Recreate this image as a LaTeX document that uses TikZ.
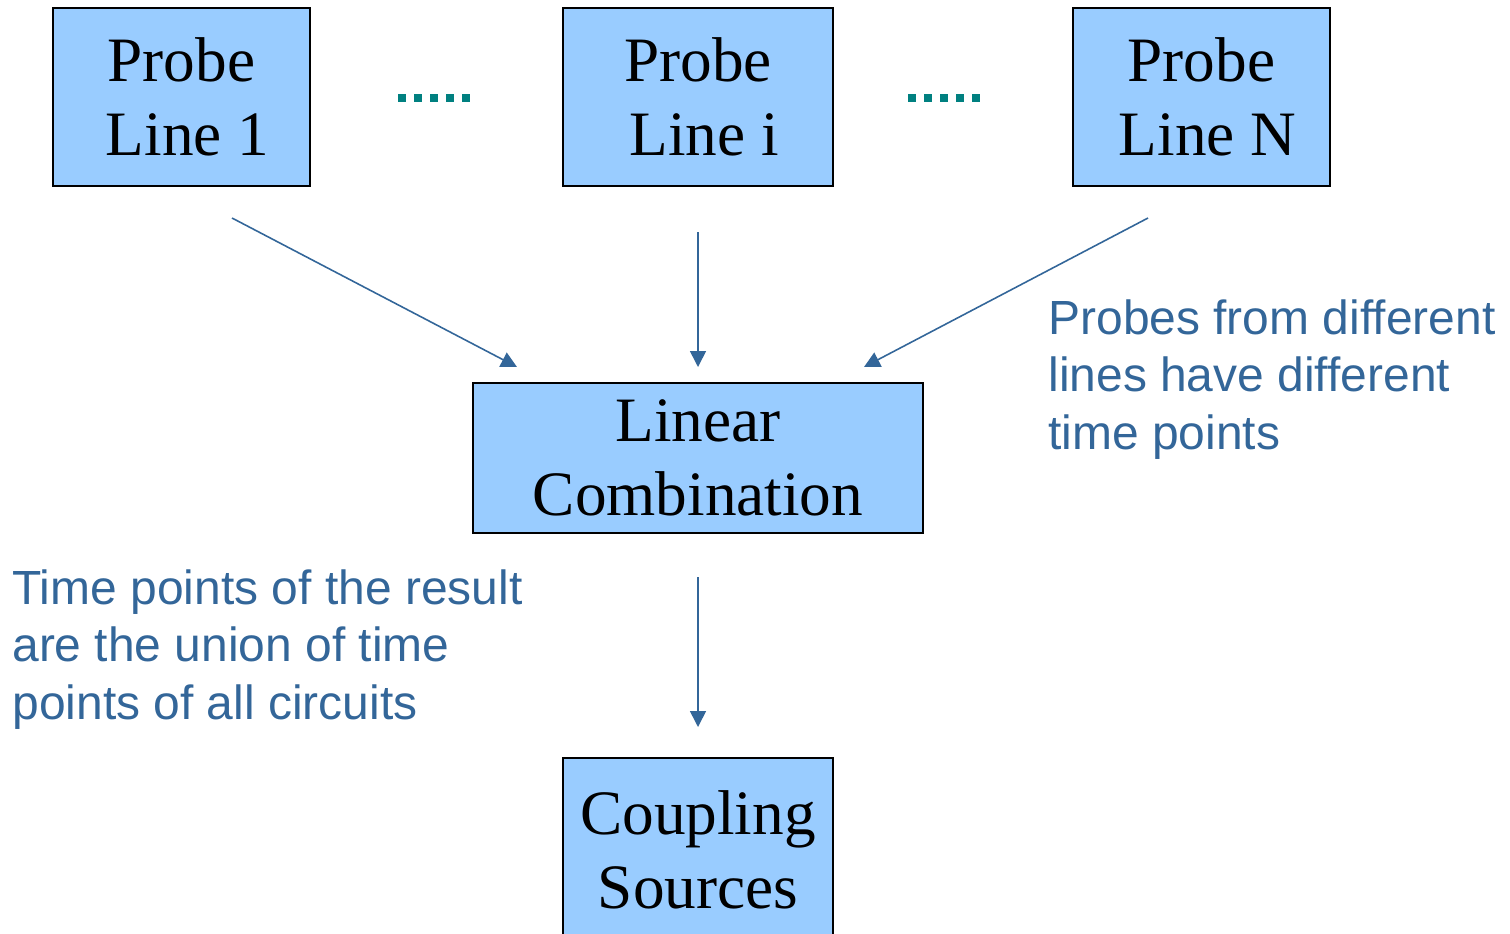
\documentclass[tikz,border=0pt]{standalone}
\usepackage{fontspec}
\setmainfont{Liberation Serif}
\newfontfamily\notefont{Liberation Sans}
\usetikzlibrary{arrows.meta}
\definecolor{boxfill}{HTML}{99CCFF}
\definecolor{linkblue}{HTML}{336699}
\definecolor{dotteal}{HTML}{008080}
\tikzset{
  stagebox/.style={draw=black, line width=1.6pt, fill=boxfill, align=center,
    inner sep=0pt, font=\fontsize{36}{42.5}\selectfont},
  flow/.style={draw=linkblue, line width=0.9pt,
    -{Triangle[length=9pt,width=9pt]}},
  note/.style={text=linkblue, align=left, anchor=north west, inner sep=0pt,
    font=\notefont\fontsize{27.3}{32.9}\selectfont},
  dotrow/.style={fill=dotteal},
}
% second text line of a probe box sits a little to the right
\newcommand{\nudge}{\hspace*{0.24cm}}
\begin{document}
\begin{tikzpicture}[x=0.02cm, y=-0.02cm]
  \useasboundingbox (0,0) rectangle (1510,933);
  \clip (0,0) rectangle (1510,933);

  % probe lines
  \node[stagebox, minimum width=5.14cm, minimum height=3.56cm] (p1) at (181.5,97) {Probe\\\nudge Line 1};
  \node[stagebox, minimum width=5.4cm, minimum height=3.56cm] (pi) at (698,97) {Probe\\\nudge Line i};
  \node[stagebox, minimum width=5.14cm, minimum height=3.56cm] (pn) at (1201.5,97) {Probe\\\nudge Line N};

  % combination and output
  \node[stagebox, minimum width=9cm, minimum height=3cm] (lc) at (698,458) {Linear\\Combination};
  \node[stagebox, minimum width=5.4cm, minimum height=4.4cm] (cs) at (698,868) {};
  \node[font=\fontsize{36}{42.5}\selectfont, align=center] (cstext) at (698,850) {Coupling\\Sources};

  % ellipsis dots between the probe boxes
  \foreach \x in {402,418,434,450,466} {
    \fill[dotrow] (\x-4,94) rectangle (\x+4,102);
    \fill[dotrow] (\x+510-4,94) rectangle (\x+510+4,102);
  }

  % arrow end points
  \coordinate (s1) at (232,218);
  \coordinate (si) at (698,232);
  \coordinate (sn) at (1148,218);
  \coordinate (e1) at (517,367);
  \coordinate (ei) at (698,367);
  \coordinate (en) at (864,367);
  \coordinate (sl) at (698,577);
  \coordinate (el) at (698,727);

  \draw[flow] (s1) -- (e1);
  \draw[flow] (si) -- (ei);
  \draw[flow] (sn) -- (en);
  \draw[flow] (sl) -- (el);

  % notes
  \node[note] (noteR) at (1048,299) {Probes from different\\lines have different\\time points};
  \node[note] (noteL) at (12,569) {Time points of the result\\are the union of time\\points of all circuits};
\end{tikzpicture}
\end{document}
